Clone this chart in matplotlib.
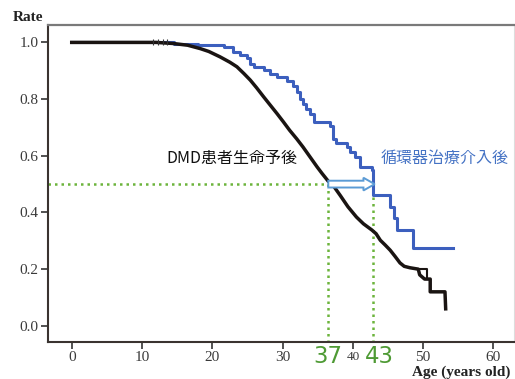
import numpy as np
import matplotlib
matplotlib.use("Agg")
import matplotlib.pyplot as plt
from matplotlib.patches import FancyArrow

plt.rcParams['font.family'] = ['Noto Sans CJK JP', 'DejaVu Sans']

# Kaplan-Meier style curves
dmd_age = [0, 12, 14.5, 16.5, 18.3, 19.5, 21.1, 22.5, 23.5, 24.5, 25.4, 26.3,
           27.3, 28.2, 29.2, 30.1, 31.0, 32.0, 32.9, 33.9, 34.9, 35.6, 36.5,
           37.2, 38.2, 39.3, 40.5, 41.5, 42.7, 43.3, 43.9, 44.6, 45.3, 46.0,
           46.7, 47.3, 48.1, 49.3, 49.5, 50.2, 51.0, 51.0, 53.1, 53.2]
dmd_rate = [1.0, 1.0, 0.996, 0.99, 0.978, 0.968, 0.949, 0.93, 0.914, 0.89, 0.867, 0.84,
            0.808, 0.78, 0.749, 0.72, 0.69, 0.66, 0.631, 0.596, 0.561, 0.538, 0.51,
            0.495, 0.46, 0.42, 0.384, 0.36, 0.338, 0.325, 0.302, 0.285, 0.267, 0.245,
            0.222, 0.21, 0.205, 0.2, 0.18, 0.165, 0.165, 0.12, 0.12, 0.06]
# small overlapping step near age 50
dmd_box_age = [49.3, 50.6, 50.6]
dmd_box_rate = [0.2, 0.2, 0.165]
censor_age = [11.5, 12.3, 13.0, 13.6]
censor_rate = [1.0, 1.0, 1.0, 1.0]

tx_age = [0, 14.5, 18.0, 21.6, 23.0, 24.0, 24.9, 25.4, 26.0, 27.3, 28.2, 29.2,
          30.6, 31.5, 32.0, 32.5, 32.9, 33.4, 33.9, 34.4, 36.7, 37.2, 37.6, 39.1,
          39.6, 40.3, 41.0, 42.7, 42.9, 45.3, 45.8, 46.3, 48.6, 54.3]
tx_rate = [1.0, 0.996, 0.99, 0.984, 0.966, 0.955, 0.945, 0.925, 0.912, 0.902, 0.89, 0.878,
           0.865, 0.845, 0.825, 0.80, 0.784, 0.765, 0.749, 0.72, 0.705, 0.66, 0.645, 0.63,
           0.615, 0.596, 0.56, 0.549, 0.461, 0.42, 0.38, 0.338, 0.273, 0.273]

median_dmd = 36.4
median_tx = 42.9
half = 0.5
xticks = [0, 10, 20, 30, 40, 50, 60]
yticks = [0.0, 0.2, 0.4, 0.6, 0.8, 1.0]

fig = plt.figure(figsize=(5.15, 3.79), dpi=100)
ax = fig.add_axes([0.0938, 0.0984, 0.904, 0.8346])

ax.plot(tx_age, tx_rate, drawstyle='steps-post', color='#3c5fbe', lw=2.2, zorder=3)
ax.plot(dmd_age, dmd_rate, color='#1a1412', lw=2.5, zorder=4)
ax.plot(dmd_box_age, dmd_box_rate, color='#1a1412', lw=1.5, zorder=4)
ax.plot(censor_age, censor_rate, ls='none', marker='|', ms=4, mew=0.8,
        color='#333333', zorder=4)

green = '#6cb43c'
dots = (0, (1, 1.6))
ax.plot([-3.4, median_tx], [half, half], color=green, lw=1.8, ls=dots, zorder=2)
for m in (median_dmd, median_tx):
    ax.plot([m, m], [half, -0.06], color=green, lw=1.8, ls=dots, zorder=2)

ax.add_patch(FancyArrow(median_dmd + 0.1, half, median_tx - median_dmd + 0.1, 0,
                        width=0.024, head_width=0.045, head_length=1.6,
                        length_includes_head=True, fc='white', ec='#5b9bd5',
                        lw=1.4, zorder=5))

ax.text(22.8, 0.592, 'DMD患者生命予後', fontsize=11.5, color='#111111',
        ha='center', va='center')
ax.text(53.0, 0.592, '循環器治療介入後', fontsize=11.5, color='#4472c4',
        ha='center', va='center')

for m, lab in ((median_dmd, '37'), (median_tx + 0.8, '43')):
    ax.annotate(lab, xy=(m, -0.047), xycoords=('data', 'axes fraction'),
                fontsize=16.5, color='#4e9a34', ha='center', va='center',
                family=['DejaVu Sans'], annotation_clip=False)

ax.set_xlim(-3.33, 62.9)
ax.set_ylim(-0.056, 1.06)
ax.set_xticks(xticks)
ax.set_yticks(yticks)
ax.set_yticklabels(['%.1f' % v for v in yticks])
ax.tick_params(direction='out', length=5, width=1.2, color='#333333',
               labelsize=11, labelcolor='#3a3a3a', pad=2)
for lab in ax.get_xticklabels() + ax.get_yticklabels():
    lab.set_family('Liberation Serif')
ax.get_xticklabels()[4].set_fontsize(9.5)

for s in ('left', 'bottom'):
    ax.spines[s].set_color('#3a3330')
    ax.spines[s].set_linewidth(1.5)
ax.spines['top'].set_color('#7a7a7a')
ax.spines['top'].set_linewidth(1.6)
ax.spines['right'].set_color('#dddddd')
ax.spines['right'].set_linewidth(0.8)

fig.text(0.025, 0.955, 'Rate', fontsize=11, fontweight='bold', family='Liberation Serif',
         color='#222222', ha='left', va='center')
fig.text(0.80, 0.018, 'Age (years old)', fontsize=11, fontweight='bold',
         family='Liberation Serif', color='#222222', ha='left', va='center')

fig.savefig('out.png', dpi=100)
